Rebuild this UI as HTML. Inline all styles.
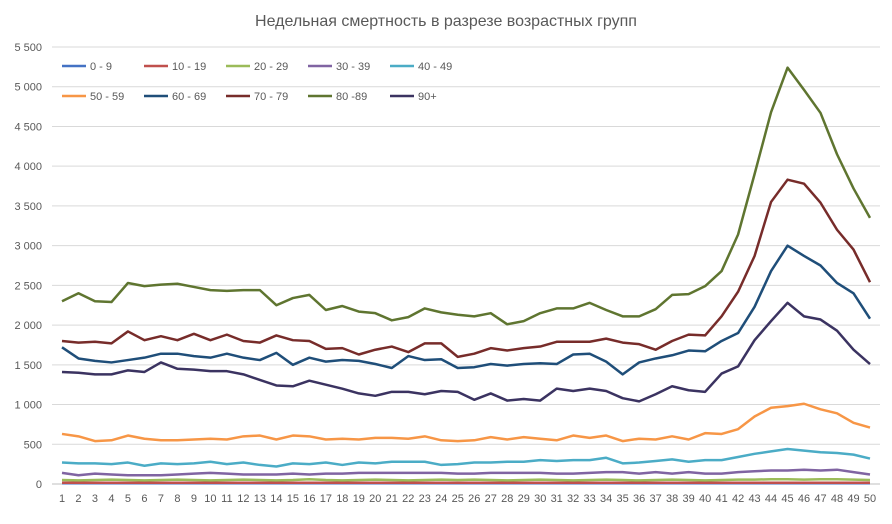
<!DOCTYPE html>
<html><head><meta charset="utf-8"><style>
body{margin:0;background:#fff;font-family:"Liberation Sans",sans-serif;}
svg text{font-family:"Liberation Sans",sans-serif;}
</style></head><body>
<svg id="c" width="892" height="519">
<text x="446" y="26" text-anchor="middle" font-size="16" fill="#595959">Недельная смертность в разрезе возрастных групп</text>
<g id="grid"></g><g id="lines"></g><g id="legend"></g>
</svg>
<script>
const weeks=Array.from({length:50},(_,i)=>i+1);
const yTicks=[0,500,1000,1500,2000,2500,3000,3500,4000,4500,5000,5500];
const names=["0 - 9","10 - 19","20 - 29","30 - 39","40 - 49","50 - 59","60 - 69","70 - 79","80 -89","90+"];
const colors=["#4472c4","#c0504d","#9bbb59","#8064a2","#4bacc6","#f79646","#1f4e79","#772c2a","#5f7530","#3b3361"];
const s0=Array(50).fill(10);
const s1=Array(50).fill(15);
const s2=[50,45,50,55,50,45,50,55,50,45,50,55,50,45,50,60,50,45,50,55,50,45,50,55,50,55,50,45,50,55,50,45,50,55,50,45,50,55,50,45,50,55,55,60,60,55,60,60,55,50];
const s3=[140,110,130,120,110,110,110,120,130,140,130,120,120,120,130,120,130,130,140,140,140,140,140,140,130,130,140,140,140,140,130,130,140,150,150,130,150,130,150,130,130,150,160,170,170,180,170,180,150,120];
const s4=[270,260,260,250,270,230,260,250,260,280,250,270,240,220,260,250,270,240,270,260,280,280,280,240,250,270,270,280,280,300,290,300,300,330,260,270,290,310,280,300,300,340,380,410,440,420,400,390,370,320];
const s5=[630,600,540,550,610,570,550,550,560,570,560,600,610,560,610,600,560,570,560,580,580,570,600,550,540,550,590,560,590,570,550,610,580,610,540,570,560,600,560,640,630,690,850,960,980,1010,940,890,770,710];
const s6=[1720,1580,1550,1530,1560,1590,1640,1640,1610,1590,1640,1590,1560,1650,1500,1590,1540,1560,1550,1510,1460,1610,1560,1570,1460,1470,1510,1490,1510,1520,1510,1630,1640,1540,1380,1530,1580,1620,1680,1670,1800,1900,2230,2680,3000,2870,2750,2530,2400,2080];
const s7=[1800,1780,1790,1770,1920,1810,1860,1810,1890,1810,1880,1800,1780,1870,1810,1800,1700,1710,1630,1690,1730,1660,1770,1770,1600,1640,1710,1680,1710,1730,1790,1790,1790,1830,1780,1760,1690,1800,1880,1870,2110,2420,2870,3550,3830,3780,3540,3200,2950,2540];
const s8=[2300,2400,2300,2290,2530,2490,2510,2520,2480,2440,2430,2440,2440,2250,2340,2380,2190,2240,2170,2150,2060,2100,2210,2160,2130,2110,2150,2010,2050,2150,2210,2210,2280,2190,2110,2110,2200,2380,2390,2490,2680,3140,3900,4680,5240,4960,4670,4150,3720,3350];
const s9=[1410,1400,1380,1380,1430,1410,1530,1450,1440,1420,1420,1380,1310,1240,1230,1300,1250,1200,1140,1110,1160,1160,1130,1170,1160,1060,1140,1050,1070,1050,1200,1170,1200,1170,1080,1040,1130,1230,1180,1160,1390,1480,1810,2050,2280,2110,2070,1930,1690,1510];
const series=[s0,s1,s2,s3,s4,s5,s6,s7,s8,s9];
const NS="http://www.w3.org/2000/svg";
const X=w=>62+(w-1)*(808/49);
const Y=v=>484-v*(437/5500);
function mk(t,a,p){const e=document.createElementNS(NS,t);for(const k in a)e.setAttribute(k,a[k]);p.appendChild(e);return e;}
const grid=document.getElementById('grid');
yTicks.forEach(v=>{
  const l=mk('line',{x1:52,x2:880,y1:Y(v),y2:Y(v),stroke:v===0?'#bfbfbf':'#d9d9d9','stroke-width':1},grid);
  
  
  const t=mk('text',{x:42,y:Y(v)+4,'text-anchor':'end','font-size':11,fill:'#595959'},grid);
  t.textContent=v===0?'0':String(v).replace(/(\d)(\d{3})$/,'$1 $2');
  
  
});
weeks.forEach(w=>{
  const t=mk('text',{x:X(w),y:502,'text-anchor':'middle','font-size':11,fill:'#595959'},grid);
  t.textContent=w;
  
  
});
const lines=document.getElementById('lines');
series.forEach((s,i)=>{
  const p=mk('polyline',{points:s.map((v,j)=>X(weeks[j])+','+Y(v)).join(' '),fill:'none',stroke:colors[i],'stroke-width':2.5,'stroke-linejoin':'round'},lines);
  
  
});
const leg=document.getElementById('legend');
names.forEach((n,i)=>{
  const col=i%5,row=Math.floor(i/5);
  const x=62+col*82,y=66+row*30;
  const g=mk('g',{},leg);
  
  
  mk('line',{x1:x,x2:x+24,y1:y,y2:y,stroke:colors[i],'stroke-width':2.5},g);
  const t=mk('text',{x:x+28,y:y+4,'font-size':11,fill:'#595959'},g);
  t.textContent=n;
});
</script>
</body></html>
